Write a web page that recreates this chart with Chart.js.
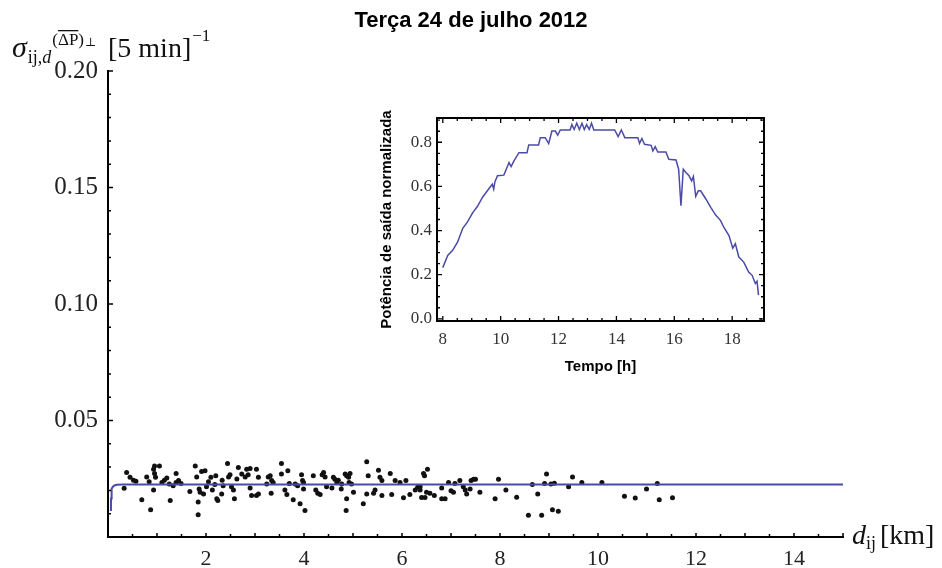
<!DOCTYPE html>
<html lang="pt">
<head>
  <meta charset="UTF-8">
  <title>Terça 24 de julho 2012</title>
  <script src="https://cdn.jsdelivr.net/npm/chart.js"></script>
  <style>
    body { margin: 0; background: #fff; }
    #wrap { position: relative; width: 942px; height: 568px; }
    #mainChart { position: absolute; left: 0; top: 0; }
    #insetChart { position: absolute; left: 370px; top: 80px; }
  </style>
</head>
<body>
<div id="wrap">
  <canvas id="mainChart" width="942" height="568"></canvas>
  <canvas id="insetChart" width="410" height="300"></canvas>
</div>
<script>
  var chartTitle = 'Terça 24 de julho 2012';

  // main plot: pair distance (km) vs sigma
  var distKm = [
    0.38, 0.33, 0.45, 0.52, 0.57, 0.69, 0.79, 0.84, 0.87, 0.93, 0.95, 0.93, 0.97, 1.05, 0.95,
    1.10, 1.15, 1.20, 1.27, 1.25, 1.33, 1.39, 1.39, 1.44, 1.49, 1.67, 1.78, 1.81, 1.86, 1.88,
    1.91, 1.95, 1.84, 1.84, 1.98, 2.01, 2.05, 2.10, 2.13, 2.18, 2.20, 2.22, 2.24, 2.32, 2.33,
    2.35, 2.44, 2.46, 2.49, 2.52, 2.56, 2.58, 2.63, 2.66,
    2.73, 2.83, 2.86, 2.90, 2.80, 3.03, 3.07, 2.90, 2.93, 3.03, 3.07, 3.24, 3.27, 3.31, 3.34,
    3.37, 3.33, 3.54, 3.54, 3.61, 3.65, 3.67, 3.70, 3.78, 3.82, 3.87, 3.92, 3.95, 3.97, 3.99,
    4.02, 3.99, 4.19, 4.24, 4.28, 4.33, 4.37, 4.40, 4.43, 4.46, 4.57, 4.60, 4.63, 4.67, 4.70,
    4.77, 4.76, 4.84, 4.87, 4.91, 4.94, 4.92, 5.01, 4.97, 4.87, 4.86, 5.21, 5.28, 5.31,
    5.28, 5.52, 5.55, 5.59, 5.45, 5.42, 5.59, 5.76, 5.79, 5.86, 5.96, 6.03, 6.08, 6.16, 6.27,
    6.32, 6.37, 6.40, 6.47, 6.44, 6.46, 6.52, 6.37, 6.50, 6.57, 6.66, 6.81, 6.81, 6.88, 6.95,
    7.00, 7.05, 7.08, 7.18, 7.25, 7.32, 7.29, 7.41, 7.46, 7.50, 7.39, 7.59, 7.90, 7.97,
    8.12, 8.34, 8.58, 8.66, 8.77, 8.85, 8.91, 8.95, 9.04, 9.07, 9.11, 9.19, 9.40, 9.48, 9.67,
    10.08, 10.54, 10.76, 10.99, 11.21, 11.25, 11.52
  ];
  var sigma = [
    0.0277, 0.0209, 0.0256, 0.0244, 0.0239, 0.0160, 0.0258, 0.0237, 0.0117, 0.0291, 0.0273, 0.0202, 0.0256, 0.0305, 0.0305,
    0.0234, 0.0244, 0.0253, 0.0157, 0.0227, 0.0220, 0.0273, 0.0234, 0.0242, 0.0230, 0.0195, 0.0305, 0.0258, 0.0206, 0.0192,
    0.0281, 0.0185, 0.0150, 0.0096, 0.0284, 0.0216, 0.0237, 0.0256, 0.0202, 0.0225, 0.0263, 0.0164, 0.0157, 0.0185, 0.0244,
    0.0220, 0.0315, 0.0258, 0.0267, 0.0216, 0.0202, 0.0164, 0.0249, 0.0298,
    0.0270, 0.0291, 0.0267, 0.0294, 0.0258, 0.0291, 0.0256, 0.0210, 0.0178, 0.0178, 0.0185, 0.0227, 0.0258, 0.0263, 0.0242,
    0.0234, 0.0188, 0.0315, 0.0270, 0.0202, 0.0182, 0.0284, 0.0230, 0.0160, 0.0227, 0.0220, 0.0143, 0.0267, 0.0242, 0.0234,
    0.0114, 0.0206, 0.0263, 0.0202, 0.0188, 0.0182, 0.0267, 0.0277, 0.0258, 0.0216, 0.0210, 0.0256, 0.0248, 0.0234, 0.0244,
    0.0227, 0.0206, 0.0270, 0.0263, 0.0256, 0.0273, 0.0234, 0.0192, 0.0227, 0.0164, 0.0114, 0.0143, 0.0323, 0.0263,
    0.0185, 0.0287, 0.0256, 0.0242, 0.0202, 0.0188, 0.0178, 0.0273, 0.0182, 0.0242, 0.0234, 0.0168, 0.0242, 0.0182, 0.0202,
    0.0213, 0.0216, 0.0170, 0.0170, 0.0273, 0.0263, 0.0291, 0.0202, 0.0192, 0.0188, 0.0178, 0.0210, 0.0164, 0.0164, 0.0234,
    0.0199, 0.0192, 0.0230, 0.0242, 0.0216, 0.0185, 0.0202, 0.0242, 0.0248, 0.0248, 0.0206, 0.0192, 0.0164, 0.0248,
    0.0202, 0.0171, 0.0093, 0.0225, 0.0185, 0.0093, 0.0230, 0.0270, 0.0227, 0.0117, 0.0231, 0.0110, 0.0216, 0.0258, 0.0234,
    0.0234, 0.0175, 0.0167, 0.0206, 0.0230, 0.0160, 0.0168
  ];

  // fitted curve (blue)
  var fitD = [0.06, 0.062, 0.068, 0.08, 0.10, 0.13, 0.18, 0.30, 15];
  var fitSigma = [0.0112, 0.0165, 0.0192, 0.0207, 0.0216, 0.0221, 0.0224, 0.0225, 0.0225];

  var xTickVals = [2, 4, 6, 8, 10, 12, 14];
  var yTickVals = [0.05, 0.10, 0.15, 0.20];

  // inset: normalized output power over the day
  var hours = [8.0, 8.17, 8.34, 8.51, 8.69, 8.86, 9.03, 9.2, 9.37, 9.54, 9.71, 9.76, 9.8, 9.89, 10.11, 10.29,
    10.36, 10.46, 10.63, 10.91, 10.97, 11.31, 11.37, 11.54, 11.66, 11.77, 11.89, 11.97, 12.06, 12.4, 12.46,
    12.54, 12.63, 12.72, 12.81, 12.89, 12.97, 13.06, 13.14, 13.22, 13.94, 14.06, 14.17, 14.29, 14.74, 14.8,
    14.88, 14.97, 15.2, 15.26, 15.34, 15.43, 15.71, 15.81, 16.06, 16.15, 16.23, 16.31, 16.4, 16.51, 16.6,
    16.66, 16.74, 16.83, 16.91, 17.09, 17.26, 17.43, 17.6, 17.71, 17.89, 18.02, 18.11, 18.23, 18.4, 18.57,
    18.69, 18.8, 18.86, 18.91];
  var power = [0.232, 0.287, 0.31, 0.347, 0.41, 0.44, 0.48, 0.51, 0.55, 0.58, 0.61, 0.588, 0.62, 0.648, 0.651, 0.708,
    0.69, 0.716, 0.753, 0.753, 0.788, 0.788, 0.821, 0.821, 0.794, 0.851, 0.851, 0.832, 0.856, 0.856, 0.88,
    0.858, 0.886, 0.858, 0.886, 0.858, 0.88, 0.858, 0.886, 0.856, 0.856, 0.826, 0.856, 0.821, 0.821, 0.795,
    0.817, 0.791, 0.786, 0.761, 0.78, 0.756, 0.756, 0.723, 0.72, 0.678, 0.513, 0.678, 0.663, 0.648, 0.625,
    0.645, 0.555, 0.58, 0.58, 0.543, 0.505, 0.47, 0.445, 0.415, 0.377, 0.32, 0.34, 0.28, 0.257, 0.212,
    0.197, 0.16, 0.17, 0.107];
  var insetXTicks = [8, 10, 12, 14, 16, 18];
  var insetYTicks = [0.0, 0.2, 0.4, 0.6, 0.8];

  var lineBlue = '#4b4ba6';
  var serif = '"Liberation Serif", "DejaVu Serif", serif';

  function toPoints(xs, ys) {
    return xs.map(function(v, i) { return { x: v, y: ys[i] }; });
  }

  function put(ctx, text, x, y, font) {
    ctx.font = font;
    ctx.fillText(text, x, y);
    return x + ctx.measureText(text).width;
  }

  // Mathematica-like ticks pointing into the plot
  var mainTicks = {
    id: 'mainTicks',
    afterDraw: function(chart) {
      var ctx = chart.ctx, a = chart.chartArea, sx = chart.scales.x, sy = chart.scales.y;
      ctx.save();
      ctx.strokeStyle = '#000';
      ctx.lineWidth = 1.5;
      ctx.beginPath();
      for (var i = 1; i <= 30; i++) {
        var px = sx.getPixelForValue(i / 2);
        var len = i % 2 === 0 ? 4 : 3;
        ctx.moveTo(px, a.bottom); ctx.lineTo(px, a.bottom - len);
      }
      for (var j = 1; j <= 20; j++) {
        var py = sy.getPixelForValue(j / 100);
        var l2 = j % 5 === 0 ? 5 : 3;
        ctx.moveTo(a.left, py); ctx.lineTo(a.left + l2, py);
      }
      ctx.stroke();
      ctx.restore();
    }
  };

  var mainText = {
    id: 'mainText',
    afterDraw: function(chart) {
      var ctx = chart.ctx;
      ctx.save();
      ctx.fillStyle = '#000';
      ctx.textBaseline = 'alphabetic';
      ctx.textAlign = 'center';
      ctx.font = 'bold 22px "Liberation Sans", Arial, sans-serif';
      ctx.fillText(chartTitle, 471, 27);

      ctx.textAlign = 'left';
      ctx.fillStyle = '#111';
      // y axis label
      var x = put(ctx, 'σ', 12, 57, 'italic 30px ' + serif);
      x = put(ctx, 'ij,', x + 1, 63, '18px ' + serif);
      x = put(ctx, 'd', x, 63, 'italic 18px ' + serif);
      x = put(ctx, '(', x + 1, 45, '17px ' + serif);
      var ov = x;
      x = put(ctx, 'ΔP', x, 45, '17px ' + serif);
      ctx.fillRect(ov, 30, x - ov, 1.3);
      x = put(ctx, ')', x, 45, '17px ' + serif);
      put(ctx, '⊥', x + 1, 46, '12px ' + serif);
      x = put(ctx, '[5 min]', 108, 57, '28px ' + serif);
      put(ctx, '−1', x + 1, 41, '17px ' + serif);

      // x axis label
      x = put(ctx, 'd', 852, 544, 'italic 28px ' + serif);
      x = put(ctx, 'ij', x, 549, '18px ' + serif);
      put(ctx, '[km]', x + 4, 544, '28px ' + serif);
      ctx.restore();
    }
  };

  new Chart(document.getElementById('mainChart'), {
    type: 'scatter',
    data: {
      datasets: [
        {
          data: toPoints(fitD, fitSigma),
          showLine: true,
          borderColor: lineBlue,
          borderWidth: 2,
          pointRadius: 0,
          tension: 0
        },
        {
          data: toPoints(distKm, sigma),
          backgroundColor: '#111',
          borderWidth: 0,
          pointRadius: 2.5
        }
      ]
    },
    options: {
      responsive: false,
      animation: false,
      layout: { padding: { top: 71, right: 99, left: 0, bottom: 0 } },
      plugins: { legend: { display: false }, tooltip: { enabled: false } },
      scales: {
        x: {
          type: 'linear', min: 0, max: 15,
          afterBuildTicks: function(s) { s.ticks = xTickVals.map(function(v) { return { value: v }; }); },
          afterFit: function(s) { s.height = 31; },
          grid: { display: false, drawTicks: false },
          border: { display: true, color: '#000', width: 2 },
          ticks: { font: { family: serif, size: 22 }, color: '#222', padding: 9, maxRotation: 0, autoSkip: false }
        },
        y: {
          type: 'linear', min: 0, max: 0.2,
          afterBuildTicks: function(s) { s.ticks = yTickVals.map(function(v) { return { value: v }; }); },
          afterFit: function(s) { s.width = 108; },
          grid: { display: false, drawTicks: false },
          border: { display: true, color: '#000', width: 2 },
          ticks: {
            font: { family: serif, size: 25 }, color: '#222', padding: 10,
            callback: function(v) { return v.toFixed(2); }
          }
        }
      }
    },
    plugins: [mainTicks, mainText]
  });

  // inset frame with inward ticks on all sides
  var insetFrame = {
    id: 'insetFrame',
    afterDraw: function(chart) {
      var ctx = chart.ctx, a = chart.chartArea, sx = chart.scales.x, sy = chart.scales.y;
      ctx.save();
      ctx.strokeStyle = '#000';
      ctx.lineWidth = 2;
      ctx.strokeRect(a.left, a.top, a.right - a.left, a.bottom - a.top);
      ctx.lineWidth = 1.3;
      ctx.beginPath();
      for (var i = 16; i <= 38; i++) {
        var px = sx.getPixelForValue(i / 2);
        var len = i % 4 === 0 ? 5 : 3;
        ctx.moveTo(px, a.bottom); ctx.lineTo(px, a.bottom - len);
        ctx.moveTo(px, a.top); ctx.lineTo(px, a.top + len);
      }
      for (var j = 0; j <= 18; j++) {
        var py = sy.getPixelForValue(j / 20);
        var l2 = j % 4 === 0 ? 5 : 3;
        ctx.moveTo(a.left, py); ctx.lineTo(a.left + l2, py);
        ctx.moveTo(a.right, py); ctx.lineTo(a.right - l2, py);
      }
      ctx.stroke();
      ctx.restore();
    }
  };

  new Chart(document.getElementById('insetChart'), {
    type: 'scatter',
    data: {
      datasets: [{
        data: toPoints(hours, power),
        showLine: true,
        borderColor: lineBlue,
        borderWidth: 1.5,
        pointRadius: 0,
        tension: 0
      }]
    },
    options: {
      responsive: false,
      animation: false,
      layout: { padding: { top: 38, right: 16, left: 0, bottom: 0 } },
      plugins: { legend: { display: false }, tooltip: { enabled: false } },
      scales: {
        x: {
          type: 'linear', min: 7.8, max: 19.1,
          afterBuildTicks: function(s) { s.ticks = insetXTicks.map(function(v) { return { value: v }; }); },
          afterFit: function(s) { s.height = 59; },
          grid: { display: false, drawTicks: false },
          border: { display: false },
          ticks: { font: { family: serif, size: 17 }, color: '#333', padding: 8, maxRotation: 0, autoSkip: false },
          title: {
            display: true, text: 'Tempo [h]', color: '#000',
            font: { family: '"Liberation Sans", Arial, sans-serif', weight: 'bold', size: 15 },
            padding: { top: 0, bottom: 4 }
          }
        },
        y: {
          type: 'linear', min: -0.01, max: 0.91,
          afterBuildTicks: function(s) { s.ticks = insetYTicks.map(function(v) { return { value: v }; }); },
          afterFit: function(s) { s.width = 67; },
          grid: { display: false, drawTicks: false },
          border: { display: false },
          ticks: {
            font: { family: serif, size: 17 }, color: '#333', padding: 5,
            callback: function(v) { return v.toFixed(1); }
          },
          title: {
            display: true, text: 'Potência de saída normalizada', color: '#000',
            font: { family: '"Liberation Sans", Arial, sans-serif', weight: 'bold', size: 15 },
            padding: { top: 8, bottom: 0 }
          }
        }
      }
    },
    plugins: [insetFrame]
  });
</script>
</body>
</html>
